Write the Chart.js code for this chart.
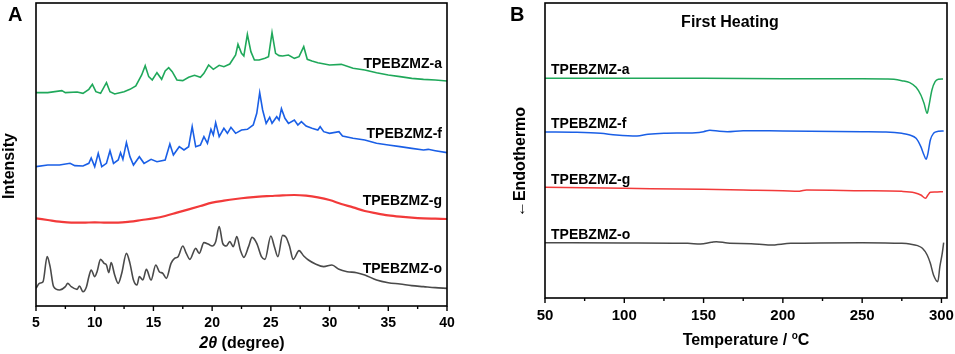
<!DOCTYPE html>
<html>
<head>
<meta charset="utf-8">
<script src="https://cdn.jsdelivr.net/npm/chart.js@4/dist/chart.umd.min.js"></script>
<style>
  html, body { margin: 0; padding: 0; background: #fff; }
  body { width: 955px; height: 354px; position: relative; overflow: hidden;
         font-family: "Liberation Sans", Arial, sans-serif; font-weight: bold; color: #000; }
  .panel { position: absolute; top: 0; width: 475px; height: 354px; }
  .t { position: absolute; line-height: 1; white-space: nowrap; }
  .lbl { font-size: 14px; }
  .rot { transform: translate(-50%, -50%) rotate(-90deg); text-align: center; width: 200px; font-size: 16px; }
</style>
</head>
<body>
<div class="panel" style="left:0"><canvas id="xrd" width="475" height="354"></canvas></div>
<div class="panel" style="left:480px"><canvas id="dsc" width="475" height="354"></canvas></div>

<div class="t" style="left:8px;top:4px;font-size:20px">A</div>
<div class="t" style="left:510px;top:4px;font-size:20px">B</div>

<!-- panel A texts -->
<div class="t lbl" style="right:513px;top:56px">TPEBZMZ-a</div>
<div class="t lbl" style="right:513px;top:126px">TPEBZMZ-f</div>
<div class="t lbl" style="right:513px;top:193px">TPEBZMZ-g</div>
<div class="t lbl" style="right:513px;top:261px">TPEBZMZ-o</div>
<div class="t rot" style="left:9px;top:166px">Intensity</div>
<div class="t" style="left:242px;top:335px;font-size:16px;transform:translateX(-50%)"><i>2θ</i> (degree)</div>

<!-- panel B texts -->
<div class="t" style="left:730px;top:14px;font-size:16px;transform:translateX(-50%)">First Heating</div>
<div class="t lbl" style="left:551px;top:62px">TPEBZMZ-a</div>
<div class="t lbl" style="left:551px;top:116px">TPEBZMZ-f</div>
<div class="t lbl" style="left:551px;top:172px">TPEBZMZ-g</div>
<div class="t lbl" style="left:551px;top:227px">TPEBZMZ-o</div>
<div class="t rot" style="left:520px;top:162px">←Endothermo</div>
<div class="t" style="left:746px;top:331px;font-size:16px;transform:translateX(-50%)">Temperature / <sup style="font-size:10px">o</sup>C</div>

<script>
// XRD (panel A): 2theta in degree, intensity in arbitrary units (curves already offset)
const xrdTheta_a = [5,6,7.2,7.5,8.5, 9,9.5,9.8,10.1,10.5, 11,11.3,11.7,12.5,13, 13.5,14,14.3,14.6,14.9,
  15.3,15.7,16,16.3,16.6, 17,17.5,18,18.5,19, 19.3,19.7,20.1,20.6,21, 21.5,22,22.2,22.5,22.7,
  23,23.3,23.6,24,24.5, 24.8,25.1,25.4,25.7,26, 26.5,27,27.4,27.8,28.1, 28.5,29,30,31,32,
  33,34,35,36,37, 38,39,40];
const xrdInt_a = [722,722,728,722,724, 720,732,747,725,720, 752,725,718,725,732, 742,775,803,770,760,
  782,762,787,797,785, 760,758,768,774,768, 780,805,792,804,800, 808,835,867,840,832,
  897,845,820,820,825, 830,902,840,833,832, 835,825,830,860,822, 817,812,805,807,795,
  790,782,775,770,765, 762,760,757];

const xrdTheta_f = [5,6,7,7.9,8.3, 9,9.5,9.7,10,10.3, 10.6,11,11.3,11.6,12, 12.2,12.4,12.7,13,13.3,
  13.8,14.2,14.8,15.3,16, 16.4,16.7,17.2,17.6,18, 18.3,18.6,19,19.3,19.6, 19.9,20.1,20.3,20.6,21,
  21.3,21.6,22,22.5,23, 23.5,23.8,24.05,24.3,24.6, 24.9,25.1,25.5,25.7,25.9, 26.2,26.5,27,27.3,27.6,
  28,28.5,29,29.2,29.5, 30,30.8,31.1,32,33, 34,35,36,37,38, 38.4,39,40];
const xrdInt_f = [500,505,505,510,503, 502,510,526,500,540, 500,510,548,510,520, 542,522,572,530,505,
  530,510,522,515,520, 568,535,560,550,560, 620,560,565,590,570, 612,595,632,590,615,
  600,618,600,610,612, 625,660,722,670,630, 648,630,650,640,674, 645,630,640,625,635,
  622,615,610,620,605, 600,605,592,585,580, 570,565,560,555,550, 552,548,542];

const xrdTheta_g = [5,6,7,8,9,10,11,12,13,14,15,16,17,18,19,20,21,22,23,24,25,26,27,28,29,30,
  31,32,33,34,35,36,37,38,39,40];
const xrdInt_g = [345,340,335,332,332,333,332,332,335,340,345,352,362,372,382,392,398,403,407,410,
  412,414,415,413,408,400,388,378,367,360,354,350,347,345,344,343];

const xrdTheta_o = [5,5.3,5.6,5.95,6.2, 6.5,7,7.5,7.7,8, 8.5,8.7,9,9.3,9.5, 9.7,10,10.2,10.5,10.8,
  11,11.2,11.4,11.7,12, 12.3,12.7,13,13.3,13.6, 13.8,14.1,14.4,14.8,15.2, 15.5,15.8,16.1,16.5,16.8,
  17.1,17.5,17.8,18.1,18.6, 18.9,19.3,19.7,20,20.3, 20.6,20.9,21.2,21.5,21.8, 22.1,22.4,22.7,23.1,23.4,
  23.8,24.2,24.5,25,25.3, 25.6,26,26.3,26.6,26.9, 27.4,27.8,28.2,28.8,29.5, 30.2,30.8,31.5,32.3,33,
  34,35,36,37,38, 39,40];
const xrdInt_o = [135,150,155,230,200, 140,130,140,150,140, 132,142,125,140,170, 190,170,185,222,210,
  205,182,212,175,150, 180,240,210,160,145, 170,160,192,160,205, 185,180,165,210,225,
  230,262,240,222,255, 240,272,267,262,275, 320,270,262,275,260, 290,250,228,260,288,
  270,230,222,292,260, 230,294,288,260,222, 248,232,220,208,200, 205,192,185,182,175,
  160,152,148,143,140, 137,135];

// DSC first heating (panel B): temperature in °C, heat flow in arbitrary units (offset)
const dscTemp_a = [50,100,150,200,250,265,270,275,280,284,287,289,291,292,294,296,298,301];
const dscHeat_a = [765,765,765,764,764,763,762,758,752,738,715,690,660,680,730,755,762,763];

const dscTemp_f = [50,70,85,95,108,115,125,145,150,154,160,165,175,200,250,265,275,280,284,287,
  289,290.3,291.5,293,295,298,301.4];
const dscHeat_f = [604,603,600,595,592,597,600,602,605,609,606,605,608,607,605,604,600,595,585,560,
  535,522,540,580,600,606,607];

const dscTemp_g = [50,100,150,175,200,210,212,215,250,275,283,287,290,291.5,293,296,301];
const dscHeat_g = [438,435,432,430,428,426,428,430,428,426,422,415,405,415,423,424,425];

const dscTemp_o = [50,100,140,148,155,158,165,180,192,205,250,275,280,285,288,291,293,295,297.7,
  299,300.5,301.4];
const dscHeat_o = [272,271,270,268,273,275,271,269,265,270,272,270,268,263,255,235,210,175,155,
  200,240,272];

const GREEN = '#1fa85a', BLUE = '#1a5fe6', RED = '#f23a3a', GREY = '#4a4a4a';
const FONT = '"Liberation Sans", Arial, sans-serif';

const pts = (xs, ys) => xs.map((v, i) => ({ x: v, y: ys[i] }));

// box round the plot area plus outward major / minor ticks on the x axis
const frame = {
  id: 'frame',
  afterDraw(chart, args, opts) {
    const { ctx, chartArea: a } = chart;
    const x = chart.scales.x;
    const on = (v, s) => Math.abs(v / s - Math.round(v / s)) < 1e-6;
    ctx.save();
    ctx.strokeStyle = '#000';
    ctx.lineWidth = 1.6;
    ctx.strokeRect(a.left, a.top, a.right - a.left, a.bottom - a.top);
    ctx.lineWidth = 1.4;
    x.ticks.forEach(t => {
      if (!on(t.value, opts.minor)) return;
      const px = x.getPixelForValue(t.value);
      const len = on(t.value, opts.major) ? 5 : 3;
      ctx.beginPath();
      ctx.moveTo(px, a.bottom);
      ctx.lineTo(px, a.bottom + len);
      ctx.stroke();
    });
    ctx.restore();
  }
};

function line(xs, ys, color, w, smooth) {
  const d = { data: pts(xs, ys), borderColor: color, borderWidth: w, pointRadius: 0,
              fill: false, tension: 0 };
  if (smooth) d.cubicInterpolationMode = 'monotone';
  return d;
}

function makeChart(id, datasets, o) {
  return new Chart(document.getElementById(id), {
    type: 'line',
    data: { datasets },
    plugins: [frame],
    options: {
      responsive: false,
      animation: false,
      layout: { padding: o.pad },
      plugins: {
        legend: { display: false },
        tooltip: { enabled: false },
        frame: { minor: o.minor, major: o.major }
      },
      scales: {
        x: {
          type: 'linear', min: o.xmin, max: o.xmax,
          grid: { display: false, drawTicks: false },
          border: { display: false },
          ticks: {
            stepSize: o.minor, autoSkip: false, includeBounds: false, maxRotation: 0,
            padding: 9, color: '#000',
            font: { family: FONT, size: o.fs, weight: 'bold' },
            callback: v => (Math.abs(v / o.major - Math.round(v / o.major)) < 1e-6 ? v : '')
          },
          // fixed axis height; end labels fit in the layout padding already
          afterFit: s => { s.height = o.axisH; s.paddingLeft = 0; s.paddingRight = 0; }
        },
        y: { display: false, min: o.ymin, max: o.ymax }
      }
    }
  });
}

makeChart('xrd', [
  line(xrdTheta_a, xrdInt_a, GREEN, 1.6, false),
  line(xrdTheta_f, xrdInt_f, BLUE, 1.6, false),
  line(xrdTheta_g, xrdInt_g, RED, 2.2, true),
  line(xrdTheta_o, xrdInt_o, GREY, 1.6, true)
], { pad: { left: 36, top: 3, right: 28, bottom: 0 }, xmin: 5, xmax: 40, minor: 2.5, major: 5,
     fs: 14, axisH: 48, ymin: 82, ymax: 991 });

makeChart('dsc', [
  line(dscTemp_a, dscHeat_a, GREEN, 1.5, true),
  line(dscTemp_f, dscHeat_f, BLUE, 1.5, true),
  line(dscTemp_g, dscHeat_g, RED, 1.5, true),
  line(dscTemp_o, dscHeat_o, GREY, 1.5, true)
], { pad: { left: 65, top: 3, right: 8, bottom: 0 }, xmin: 50, xmax: 303.5, minor: 25, major: 50,
     fs: 15, axisH: 56, ymin: 106, ymax: 991 });
</script>
</body>
</html>
